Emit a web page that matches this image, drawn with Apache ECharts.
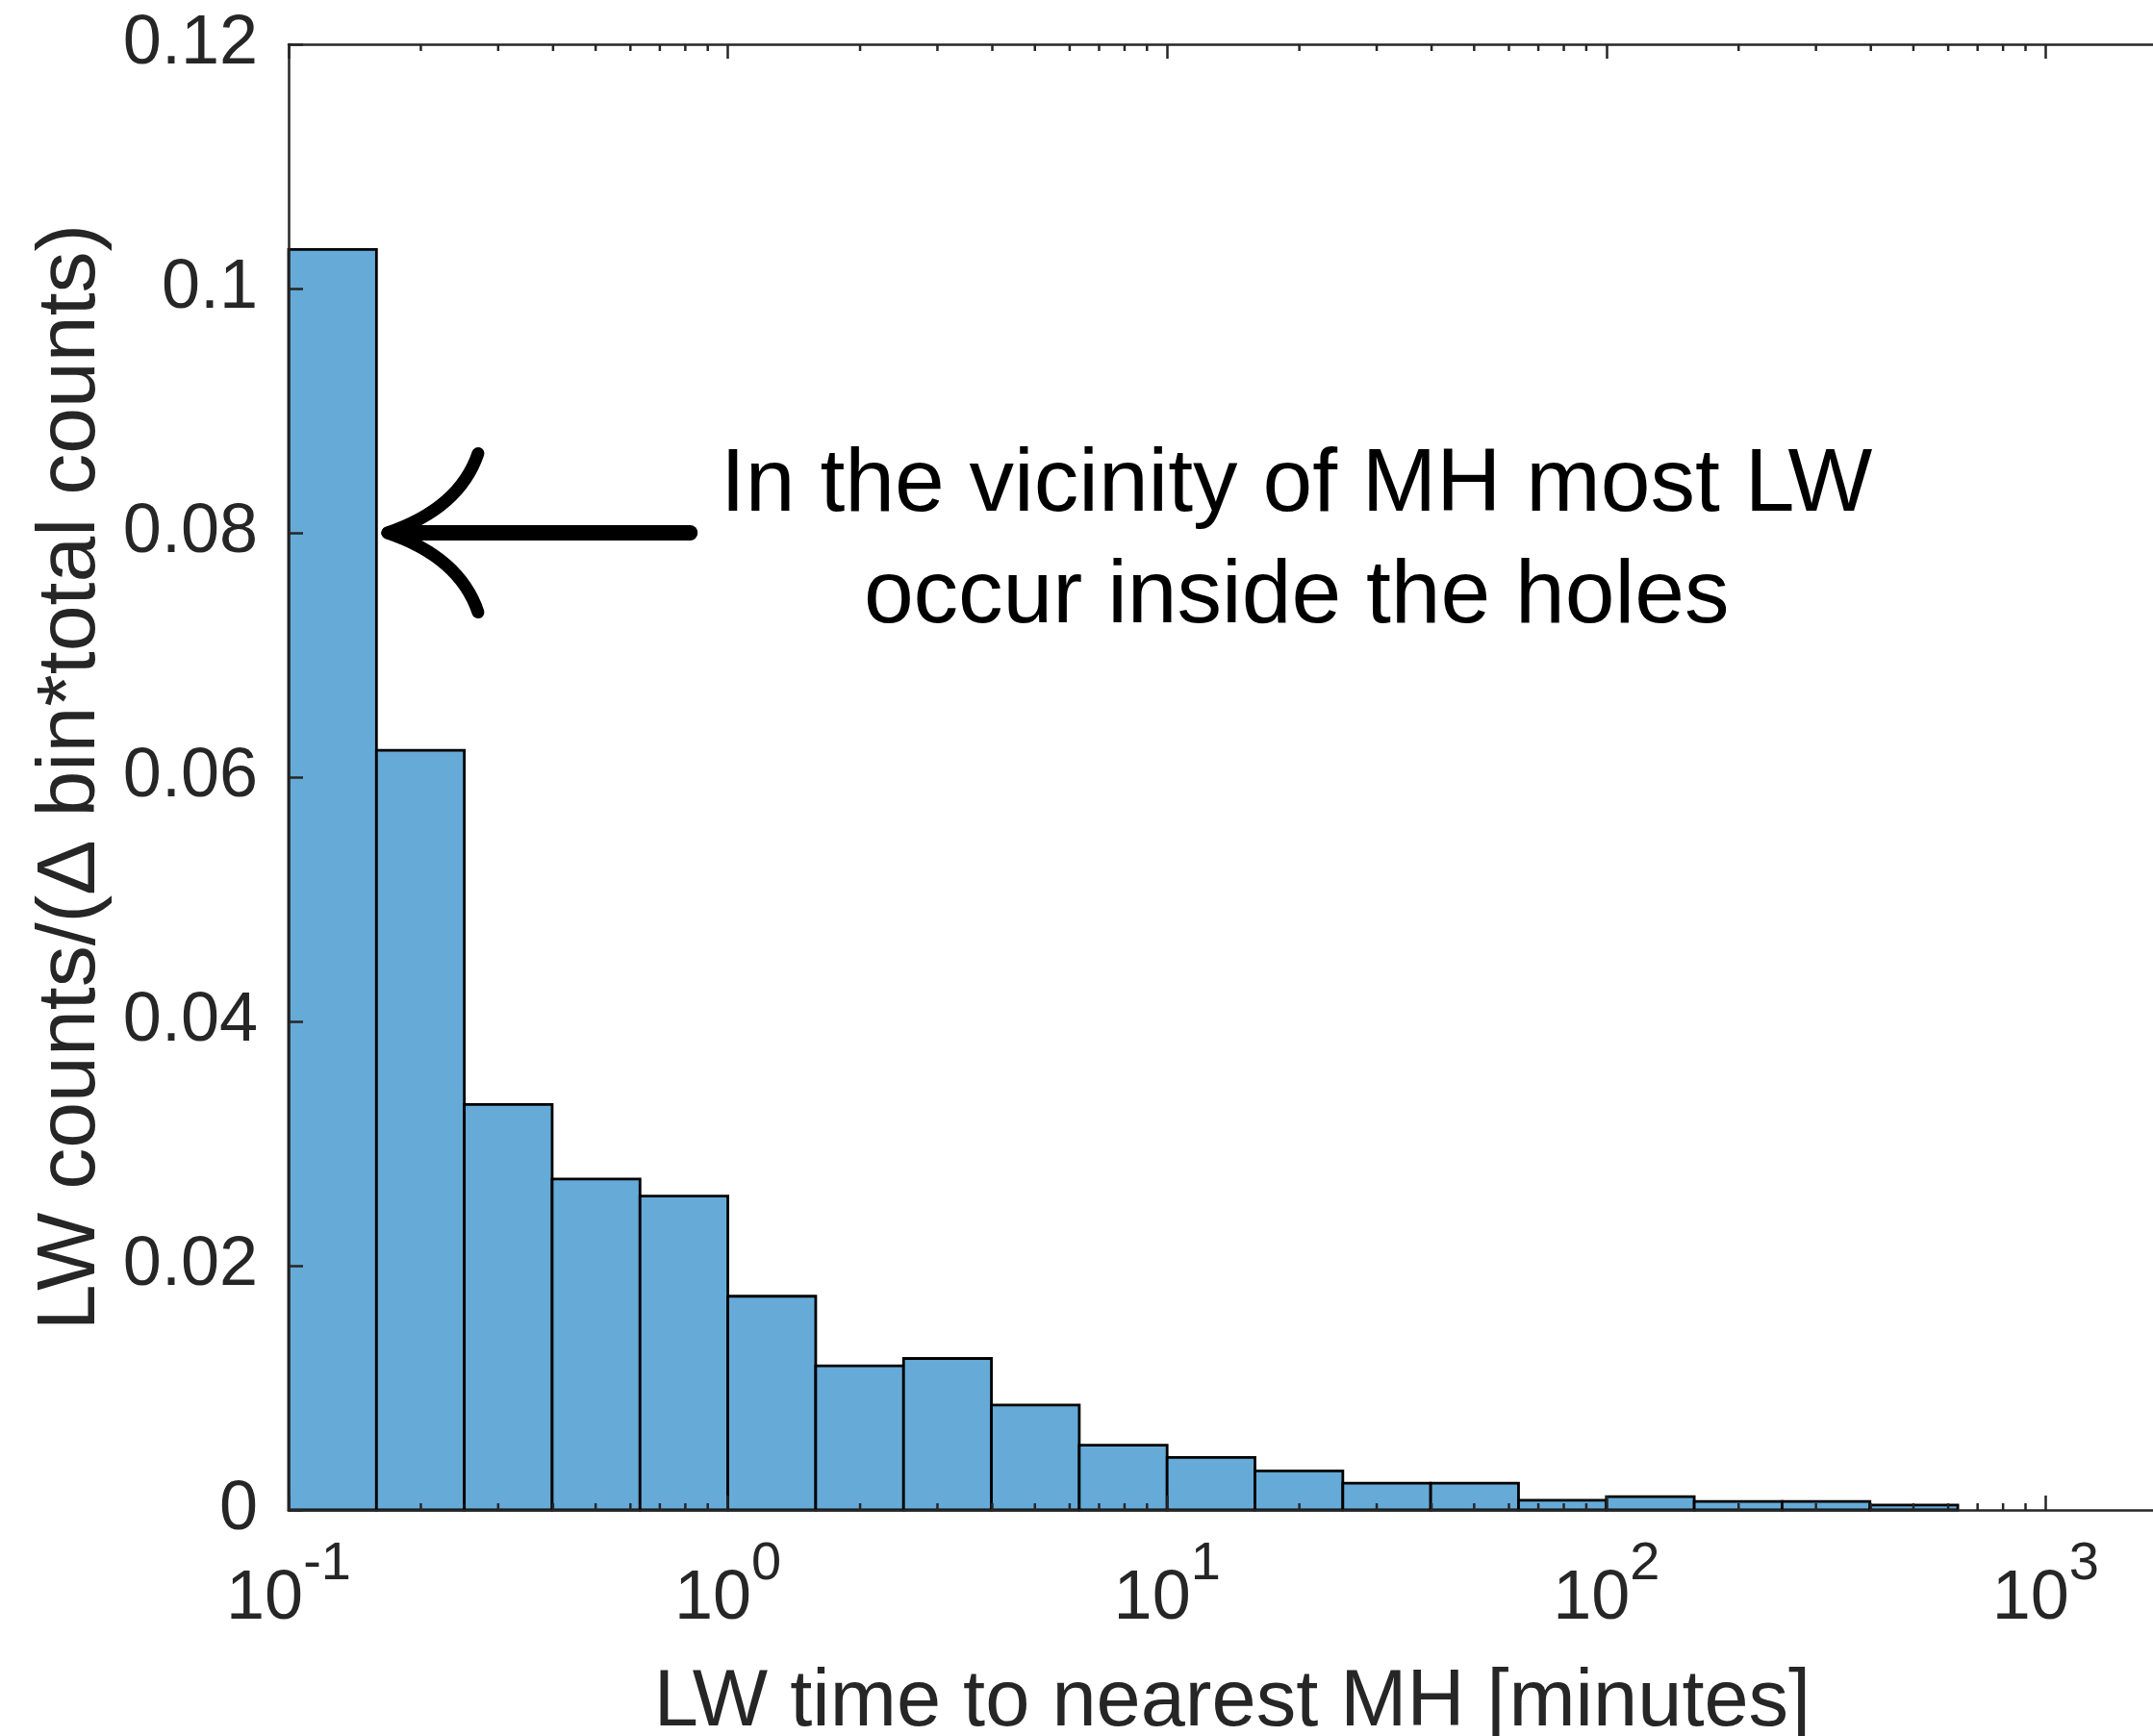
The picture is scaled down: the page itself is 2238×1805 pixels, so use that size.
<!DOCTYPE html>
<html>
<head>
<meta charset="utf-8">
<title>LW time to nearest MH</title>
<script src="https://cdn.jsdelivr.net/npm/echarts@6/dist/echarts.min.js"></script>
<style>
  html, body { margin: 0; padding: 0; background: #ffffff; }
  #chart { width: 2238px; height: 1805px; }
</style>
</head>
<body>
<div id="chart"></div>
<script>
// Histogram: bin edges as base-10 exponents (0.2-decade bins), normalised density per bin
const binEdgeExponents = [-1.0, -0.8, -0.6, -0.4, -0.2, 0.0, 0.2, 0.4, 0.6, 0.8,
                          1.0, 1.2, 1.4, 1.6, 1.8, 2.0, 2.2, 2.4, 2.6, 2.8];
const binDensity = [0.1032, 0.0622, 0.0332, 0.0271, 0.0257, 0.0175, 0.0118, 0.0124, 0.0086, 0.0053,
                    0.0043, 0.0032, 0.0022, 0.0022, 0.0008, 0.0011, 0.0007, 0.0007, 0.0004];

// Axis extents and ticks
const xRange = [0.1, 10000];
const yRange = [0, 0.12];
const yStep = 0.02;
const minorMantissas = [2, 3, 4, 5, 6, 7, 8, 9];
const minorDecades = [0.1, 1, 10, 100, 1000];

// Texts
const xAxisTitle = 'LW time to nearest MH [minutes]';
const yAxisTitle = 'LW counts/(\u0394 bin*total counts)';
const noteLines = ['In the vicinity of MH most LW', 'occur inside the holes'];

// Annotation anchors, in data units (minutes, density)
const arrowTip = [0.168, 0.08];
const arrowTail = [0.82, 0.08];
const barbBends = [[0.245, 0.082], [0.245, 0.078]];
const barbEnds = [[0.27, 0.0865], [0.27, 0.0735]];
const noteCenter = [19.7, 0.0793];

const FONT = '"Liberation Sans", Arial, Helvetica, sans-serif';
const INK = '#262626';
const FACE = '#66AAD7';

const binEdges = binEdgeExponents.map(e => Math.pow(10, e));
const barData = binDensity.map((h, i) => [binEdges[i], binEdges[i + 1], h]);
const minorTicks = [];
minorDecades.forEach(d => minorMantissas.forEach(m => minorTicks.push([m * d, 0])));

function supLabel(value) {
  const e = Math.round(Math.log10(value));
  return '{b|10}{s|' + (e < 0 ? '-' + (-e) : String(e)) + '}';
}

const axisLineStyle = { color: INK, width: 2.5 };

const chart = echarts.init(document.getElementById('chart'));
chart.setOption({
  backgroundColor: '#ffffff',
  animation: false,
  grid: { left: 300, top: 46, bottom: 235, right: -345, outerBoundsMode: 'none', containLabel: false },
  xAxis: [
    {
      type: 'log', logBase: 10, min: xRange[0], max: xRange[1], position: 'bottom', z: 5,
      axisLine: { show: true, onZero: false, lineStyle: axisLineStyle },
      axisTick: { show: true, inside: true, length: 15, lineStyle: axisLineStyle },
      minorTick: { show: false }, splitLine: { show: false }, minorSplitLine: { show: false },
      axisLabel: {
        show: true, margin: 29, formatter: supLabel, hideOverlap: false,
        rich: {
          b: { fontSize: 72, lineHeight: 128, color: INK, fontFamily: FONT },
          s: { fontSize: 56, lineHeight: 56, color: INK, fontFamily: FONT, verticalAlign: 'top' }
        }
      }
    },
    {
      type: 'log', logBase: 10, min: xRange[0], max: xRange[1], position: 'top', z: 5,
      axisLine: { show: true, onZero: false, lineStyle: axisLineStyle },
      axisTick: { show: true, inside: true, length: 15, lineStyle: axisLineStyle },
      minorTick: { show: false }, splitLine: { show: false },
      axisLabel: { show: false }
    }
  ],
  yAxis: {
    type: 'value', min: yRange[0], max: yRange[1], interval: yStep, z: 5,
    axisLine: { show: true, onZero: false, lineStyle: axisLineStyle },
    axisTick: { show: true, inside: true, length: 15, lineStyle: axisLineStyle },
    splitLine: { show: false },
    axisLabel: { fontSize: 72, color: INK, fontFamily: FONT, margin: 32 },
    name: yAxisTitle, nameLocation: 'middle', nameGap: 172,
    nameTextStyle: { fontSize: 86, color: INK, fontFamily: FONT }
  },
  graphic: [{
    type: 'text', x: 1281, y: 1771, z: 10,
    style: { text: xAxisTitle, fontSize: 83, fontFamily: FONT, fill: INK, align: 'center', verticalAlign: 'middle' }
  }],
  series: [
    {
      // histogram bars spanning each bin on the log axis
      type: 'custom', name: 'bins', xAxisIndex: 0, yAxisIndex: 0, z: 2,
      data: barData, encode: { x: [0, 1], y: 2 },
      renderItem: function (params, api) {
        const topLeft = api.coord([api.value(0), api.value(2)]);
        const bottomRight = api.coord([api.value(1), 0]);
        return {
          type: 'rect',
          shape: { x: topLeft[0], y: topLeft[1], width: bottomRight[0] - topLeft[0], height: bottomRight[1] - topLeft[1] },
          style: { fill: FACE, stroke: '#000000', lineWidth: 2.8 }
        };
      }
    },
    {
      // minor log ticks on bottom and top edges
      type: 'custom', name: 'minor ticks', xAxisIndex: 0, yAxisIndex: 0, z: 6, silent: true,
      data: minorTicks, encode: { x: 0, y: 1 },
      renderItem: function (params, api) {
        const x = api.coord([api.value(0), 0])[0];
        const cs = params.coordSys;
        const yb = cs.y + cs.height;
        return {
          type: 'group',
          children: [
            { type: 'line', shape: { x1: x, y1: yb, x2: x, y2: yb - 7 }, style: { stroke: INK, lineWidth: 2.5 } },
            { type: 'line', shape: { x1: x, y1: cs.y, x2: x, y2: cs.y + 7 }, style: { stroke: INK, lineWidth: 2.5 } }
          ]
        };
      }
    },
    {
      // annotation arrow and note
      type: 'custom', name: 'note', xAxisIndex: 0, yAxisIndex: 0, z: 7, silent: true,
      data: [[arrowTip[0], arrowTip[1]]], encode: { x: 0, y: 1 },
      renderItem: function (params, api) {
        const tip = api.coord(arrowTip);
        const tail = api.coord(arrowTail);
        const children = [{
          type: 'line',
          shape: { x1: tip[0] + 8, y1: tip[1], x2: tail[0], y2: tail[1] },
          style: { stroke: '#000000', lineWidth: 16, lineCap: 'round' }
        }];
        for (let i = 0; i < 2; i++) {
          const c = api.coord(barbBends[i]);
          const e = api.coord(barbEnds[i]);
          children.push({
            type: 'bezierCurve',
            shape: { x1: tip[0], y1: tip[1], x2: e[0], y2: e[1], cpx1: c[0], cpy1: c[1] },
            style: { stroke: '#000000', fill: null, lineWidth: 13, lineCap: 'round' }
          });
        }
        const nc = api.coord(noteCenter);
        children.push({
          type: 'text', x: nc[0], y: nc[1],
          style: {
            text: noteLines.join('\n'), fontSize: 93, lineHeight: 116, fontFamily: FONT,
            fill: '#000000', align: 'center', verticalAlign: 'middle'
          }
        });
        return { type: 'group', children: children };
      }
    }
  ]
});
</script>
</body>
</html>
